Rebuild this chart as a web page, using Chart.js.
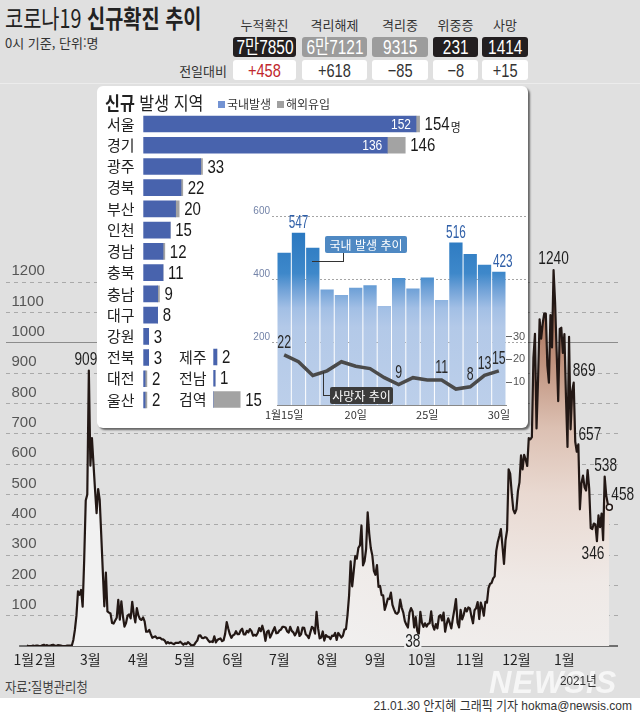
<!DOCTYPE html>
<html lang="ko">
<head>
<meta charset="utf-8">
<title>코로나19 신규확진 추이</title>
<script src="https://cdn.jsdelivr.net/npm/chart.js"></script>
<style>
  html, body { margin: 0; padding: 0; }
  body { position: relative; width: 640px; height: 713px; overflow: hidden; background: #e0e0e0; color: #222;
         font-family: 'Noto Sans CJK KR', sans-serif; }
  canvas { position: absolute; }
  .t { position: absolute; white-space: nowrap; }
  .num { font-family: 'Liberation Sans', 'Noto Sans CJK KR', sans-serif; }
  .sq { transform-origin: 0 0; }
  #panel { position: absolute; left: 97px; top: 86px; width: 431px; height: 342px; background: #fff;
           border-radius: 6px; box-shadow: 2px 2px 2px rgba(0,0,0,.55); }
  .box, .chg { position: absolute; height: 20px; line-height: 21px; border-radius: 3px; white-space: nowrap;
               display: flex; justify-content: center; }
  .box { font-size: 20px; color: #fff; }
  .chg { font-size: 19px; background: #fff; color: #333; }
  .box span, .chg span { display: inline-block; transform: scaleX(.77); }
  .callout { position: absolute; color: #fff; font-size: 12px; line-height: 17px; text-align: center; border-radius: 2px; }
  .lead { position: absolute; border: 0 solid #333; }
</style>
</head>
<body>
<div class="t sq" style="left:5px;top:5px;font-size:25px;line-height:25px;transform:scaleX(.79)">코로나19 <b>신규확진 추이</b></div>
<div class="t" style="left:5px;top:35px;font-size:13px;line-height:15px;color:#333">0시 기준, 단위:명</div>
<div id="stats"></div>
<div class="t" style="left:0;top:83px;width:640px;height:1px;background:#ececec"></div>

<canvas id="main" width="640" height="435" style="left:0;top:240px"></canvas>

<div id="panel"></div>
<div class="t sq" style="left:105px;top:93px;font-size:18px;line-height:18px;transform:scaleX(.9)"><b>신규</b> 발생 지역</div>
<div class="t" style="left:218px;top:101px;width:7px;height:7px;background:#7393d3"></div>
<div class="t" style="left:227px;top:96px;font-size:12px;line-height:16px;color:#333">국내발생</div>
<div class="t" style="left:277px;top:101px;width:7px;height:7px;background:#a0a0a0"></div>
<div class="t" style="left:286px;top:96px;font-size:12px;line-height:16px;color:#333">해외유입</div>

<canvas id="regionsA" width="380" height="318" style="left:97px;top:103px"></canvas>
<canvas id="regionsB" width="110" height="85" style="left:175px;top:336px"></canvas>
<canvas id="recent" width="280" height="230" style="left:250px;top:196px"></canvas>

<div class="lead" style="left:343px;top:252px;height:10px;border-left-width:1px"></div>
<div class="lead" style="left:312px;top:261px;width:32px;border-top-width:1px"></div>
<div class="callout" style="left:325px;top:236px;width:82px;height:17px;background:#4f89c3">국내 발생 추이</div>
<div class="lead" style="left:323px;top:372px;height:23px;border-left-width:1px"></div>
<div class="lead" style="left:323px;top:395px;width:7px;border-top-width:1px"></div>
<div class="callout" style="left:330px;top:387px;width:63px;height:17px;background:#3b3b3b">사망자 추이</div>

<div class="t sq" style="left:5px;top:677px;font-size:14px;line-height:18px;color:#444;transform:scaleX(.88)">자료:질병관리청</div>
<div class="t" style="left:489px;top:665px;font:italic bold 31px 'Liberation Sans', sans-serif;color:rgba(255,255,255,.7);letter-spacing:1px">NEWSIS</div>
<div class="t num sq" style="left:560px;top:673px;font-size:13px;line-height:16px;color:#333;transform:scaleX(.9)">2021년</div>
<div class="t" style="left:0;top:698px;width:640px;height:15px;background:#fff"></div>
<div class="t num" style="right:8px;top:698px;font-size:13px;line-height:15px;color:#333;transform:scaleX(.92);transform-origin:100% 0">21.01.30 안지혜 그래픽 기자 hokma@newsis.com</div>

<script>
const KR = "'Noto Sans CJK KR', sans-serif";
const NUM = "'Liberation Sans', 'Noto Sans CJK KR', sans-serif";

// header figures
const statNames = ['누적확진', '격리해제', '격리중', '위중증', '사망'];
const statTotals = ['7만7850', '6만7121', '9315', '231', '1414'];
const statChanges = ['+458', '+618', '−85', '−8', '+15'];

// daily new cases, 2020-01-20 .. 2021-01-30
const jan2020 = [1, 0, 0, 0, 1, 0, 1, 1, 0, 0, 2, 4];
const feb2020 = [1, 3, 0, 1, 3, 4, 1, 0, 3, 2, 1, 0, 0, 0, 1, 1, 1, 1, 20, 53, 100, 180, 169, 185, 130, 284, 480, 500, 909];
const mar2020 = [595, 686, 600, 516, 438, 518, 483, 367, 248, 131, 242, 114, 110, 107, 76, 74, 84, 93, 152, 87, 147, 98, 64, 76, 100, 104, 91, 146, 105, 78, 125];
const apr2020 = [101, 89, 86, 94, 81, 47, 47, 53, 39, 27, 30, 32, 25, 27, 27, 22, 22, 18, 8, 13, 9, 11, 8, 6, 10, 10, 10, 14, 9, 4];
const may2020 = [9, 6, 13, 8, 3, 2, 4, 12, 18, 34, 35, 27, 26, 29, 27, 19, 13, 15, 13, 32, 12, 20, 23, 25, 16, 19, 40, 79, 58, 39, 27];
const jun2020 = [35, 38, 49, 39, 39, 51, 57, 38, 38, 50, 45, 56, 49, 34, 37, 34, 43, 59, 49, 67, 48, 17, 46, 51, 28, 39, 51, 62, 42, 43];
const jul2020 = [51, 54, 63, 63, 61, 48, 44, 63, 50, 45, 35, 44, 62, 33, 39, 61, 60, 39, 34, 26, 45, 63, 59, 41, 113, 58, 25, 28, 48, 18, 36];
const aug2020 = [31, 30, 23, 34, 33, 43, 20, 43, 36, 28, 34, 54, 56, 103, 166, 279, 197, 246, 297, 288, 324, 332, 397, 266, 280, 320, 441, 371, 323, 299, 248];
const sep2020 = [235, 267, 195, 198, 168, 167, 119, 136, 156, 155, 176, 136, 121, 109, 106, 113, 153, 126, 110, 82, 70, 61, 110, 125, 114, 61, 95, 50, 38, 113];
const oct2020 = [77, 63, 75, 64, 73, 75, 114, 69, 54, 72, 58, 97, 102, 84, 110, 47, 73, 91, 76, 58, 91, 121, 155, 77, 61, 119, 88, 103, 125, 114, 127];
const nov2020 = [124, 97, 75, 118, 125, 145, 89, 143, 126, 100, 146, 143, 191, 205, 208, 223, 230, 313, 343, 363, 386, 330, 271, 349, 382, 583, 569, 504, 450, 438];
const dec2020 = [451, 511, 540, 629, 583, 631, 615, 594, 686, 682, 689, 950, 1030, 718, 880, 1078, 1014, 1064, 1097, 1097, 926, 869, 1092, 985, 1240, 1132, 970, 808, 1046, 1050, 967];
const jan2021 = [1029, 824, 657, 1020, 715, 840, 869, 674, 641, 665, 451, 537, 562, 524, 513, 580, 520, 389, 386, 404, 401, 346, 431, 392, 437, 349, 559, 497, 469, 458];

// month ticks (day index from 1/20) and axis labels
const monthTicks = [-2, 12, 41, 72, 102, 133, 163, 194, 225, 255, 286, 316, 347];
const monthLabels = ['1월', '2월', '3월', '4월', '5월', '6월', '7월', '8월', '9월', '10월', '11월', '12월', '1월'];
const yTicks = [100, 200, 300, 400, 500, 600, 700, 800, 900, 1000, 1100, 1200];

// new cases by region on 1/30
const regionsLeft = ['서울', '경기', '광주', '경북', '부산', '인천', '경남', '충북', '충남', '대구', '강원', '전북', '대전', '울산'];
const domesticLeft = [152, 136, 32, 21, 18, 15, 11, 11, 8, 8, 3, 3, 1, 1];
const importedLeft = [2, 10, 1, 1, 2, 0, 1, 0, 1, 0, 0, 0, 1, 1];
const regionsRight = ['제주', '전남', '검역'];
const domesticRight = [2, 1, 0];
const importedRight = [0, 0, 15];

// last 16 days
const recentDays = [15, 16, 17, 18, 19, 20, 21, 22, 23, 24, 25, 26, 27, 28, 29, 30];
const recentDomestic = [483, 547, 499, 367, 349, 372, 380, 314, 403, 370, 405, 333, 516, 479, 445, 423];
const recentDeaths = [22, 19, 13, 15, 19, 17, 16, 12, 9, 12, 11, 11, 7, 8, 13, 15];

// ---------------- header
const statLayout = [[233, 63, '#231f20'], [302, 65, '#9c9c9c'], [372, 56, '#9c9c9c'], [433, 45, '#231f20'], [482, 46, '#231f20']];
let html = '';
statNames.forEach(function(name, i) {
  const left = statLayout[i][0], w = statLayout[i][1], bg = statLayout[i][2];
  html += '<div class="t" style="left:' + left + 'px;width:' + w + 'px;top:17px;text-align:center;font-size:13px;line-height:15px;color:#333">' + name + '</div>';
  html += '<div class="box num" style="left:' + left + 'px;width:' + w + 'px;top:37px;background:' + bg + '"><span>' + statTotals[i] + '</span></div>';
  html += '<div class="chg num" style="left:' + left + 'px;width:' + w + 'px;top:60px;' + (i == 0 ? 'color:#c1272d' : '') + '"><span>' + statChanges[i] + '</span></div>';
});
html += '<div class="t" style="left:150px;width:77px;top:63px;text-align:right;font-size:13px;line-height:15px;color:#333">전일대비</div>';
document.getElementById('stats').innerHTML = html;

function squeeze(c, text, x, y, align, sx) {
  c.save();
  c.translate(x, y);
  c.scale(sx, 1);
  c.textAlign = align;
  c.textBaseline = 'middle';
  c.fillText(text, 0, 0);
  c.restore();
}

// ---------------- main daily chart
const mainSeries = [].concat(jan2020, feb2020, mar2020, apr2020, may2020, jun2020, jul2020, aug2020, sep2020, oct2020, nov2020, dec2020, jan2021);

const mainNotes = [
  { i: 40, text: '909', dx: -3, dy: -11, align: 'center' },
  { i: 340, text: '1240', dx: 0, dy: -11, align: 'center' },
  { i: 353, text: '869', dx: -1, dy: -12, align: 'left' },
  { i: 349, text: '657', dx: 11, dy: -12, align: 'left' },
  { i: 373, text: '538', dx: 1, dy: -11, align: 'center' },
  { i: 368, text: '346', dx: -4, dy: 13, align: 'center' },
  { i: 376, text: '458', dx: 2, dy: -12, align: 'left' },
  { i: 253, text: '38', dx: -6, dy: 7, align: 'center', bg: true }
];

function areaFill(ctx) {
  const chart = ctx.chart;
  if (!chart.chartArea) return '#f0f0f0';
  const cx = chart.scales.x.getPixelForValue(340), cy = chart.scales.y.getPixelForValue(1240);
  const g = chart.ctx.createRadialGradient(cx, cy, 0, cx, cy, 450);
  g.addColorStop(0, '#9e654d');
  g.addColorStop(0.1, '#a9745d');
  g.addColorStop(0.2, '#bf917c');
  g.addColorStop(0.35, '#dcc0b2');
  g.addColorStop(0.5, '#e9d9d1');
  g.addColorStop(0.7, '#efe9e6');
  g.addColorStop(1, '#f1f1f1');
  return g;
}

const mainLabels = {
  id: 'mainLabels',
  beforeDatasetsDraw(chart) {
    // baseline starts a little right of the left edge, as in the print version
    const c = chart.ctx, a = chart.chartArea;
    c.save();
    c.strokeStyle = '#4a4a4a';
    c.lineWidth = 1.5;
    c.beginPath();
    c.moveTo(chart.scales.x.getPixelForValue(-5), a.bottom);
    c.lineTo(a.right, a.bottom);
    c.stroke();
    c.restore();
  },
  afterDatasetsDraw(chart) {
    const c = chart.ctx, pts = chart.getDatasetMeta(0).data;
    c.font = '19px ' + NUM;
    mainNotes.forEach(function(n) {
      const p = pts[n.i];
      const x = p.x + n.dx, y = p.y + n.dy;
      if (n.bg) {
        const w = c.measureText(n.text).width * 0.72;
        c.fillStyle = '#f0f0f0';
        c.fillRect(x - w / 2 - 1, y - 7, w + 2, 14);
      }
      c.fillStyle = '#1e1e1e';
      squeeze(c, n.text, x, y, n.align, 0.72);
    });
  }
};

new Chart(document.getElementById('main'), {
  type: 'line',
  data: {
    datasets: [{
      data: mainSeries.map(function(v, i) { return { x: i, y: v }; }),
      borderColor: '#231815',
      borderWidth: 2.2,
      borderJoinStyle: 'round',
      fill: 'origin',
      backgroundColor: areaFill,
      tension: 0,
      pointRadius: function(ctx) { return ctx.dataIndex === mainSeries.length - 1 ? 3 : 0; },
      pointBackgroundColor: '#f0f0f0',
      pointBorderColor: '#231815',
      pointBorderWidth: 1.5
    }]
  },
  options: {
    animation: false,
    responsive: false,
    layout: { padding: { top: 10, right: 22, left: 0, bottom: 0 } },
    plugins: { legend: { display: false }, tooltip: { enabled: false } },
    scales: {
      x: {
        type: 'linear', min: -13.8, max: 381.6,
        afterBuildTicks: function(s) { s.ticks = monthTicks.map(function(v) { return { value: v }; }); },
        afterFit: function(s) { s.height = 29; },
        ticks: {
          autoSkip: false, maxRotation: 0, padding: 5, color: '#222',
          font: { family: KR, size: 14 },
          callback: function(v) { return monthLabels[monthTicks.indexOf(v)]; }
        },
        grid: { display: false, drawTicks: false },
        border: { display: false }
      },
      y: {
        min: 0, max: 1290,
        afterBuildTicks: function(s) { s.ticks = yTicks.map(function(v) { return { value: v }; }); },
        afterFit: function(s) { s.width = 0; },
        ticks: {
          mirror: true, padding: 6, labelOffset: -11, color: '#555',
          font: { family: "'Liberation Sans', sans-serif", size: 15 },
          callback: function(v) { return String(v); }
        },
        grid: {
          drawTicks: false, lineWidth: 1,
          color: function(c) { return c.tick && c.tick.value === 1000 ? '#8c8c8c' : '#a9a9a9'; }
        },
        border: { display: false, dash: function(c) { return c.tick && c.tick.value === 1000 ? [] : [4, 4]; } }
      }
    }
  },
  plugins: [mainLabels]
});

// ---------------- regions
const regionLabels = {
  id: 'regionLabels',
  afterDatasetsDraw(chart) {
    const c = chart.ctx, xs = chart.scales.x, ys = chart.scales.y;
    const dom = chart.data.datasets[0].data, imp = chart.data.datasets[1].data;
    dom.forEach(function(d, i) {
      const total = d + imp[i];
      const y = ys.getPixelForValue(i) + 1;
      const xEnd = xs.getPixelForValue(total) + 5;
      c.fillStyle = '#1a1a1a';
      c.font = '19px ' + NUM;
      squeeze(c, String(total), xEnd, y, 'left', 0.79);
      if (chart.canvas.id === 'regionsA' && i === 0) {
        const w = c.measureText(String(total)).width * 0.79;
        c.font = '12px ' + KR;
        squeeze(c, '명', xEnd + w + 1, y + 2, 'left', 0.9);
      }
      if (d > 100) {
        c.fillStyle = '#fff';
        c.font = '15px ' + NUM;
        squeeze(c, String(d), xs.getPixelForValue(d) - 5, y, 'right', 0.8);
      }
    });
  }
};

function regionChart(id, names, dom, imp, maxValue, axisWidth, pad) {
  return new Chart(document.getElementById(id), {
    type: 'bar',
    data: {
      labels: names,
      datasets: [
        { data: dom, backgroundColor: '#4863ad', barThickness: 16 },
        { data: imp, backgroundColor: '#a3a3a3', barThickness: 16 }
      ]
    },
    options: {
      indexAxis: 'y',
      animation: false,
      responsive: false,
      layout: { padding: pad },
      plugins: { legend: { display: false }, tooltip: { enabled: false } },
      scales: {
        x: { display: false, stacked: true, min: 0, max: maxValue },
        y: {
          stacked: true,
          afterFit: function(s) { s.width = axisWidth; },
          grid: { display: false, drawTicks: false },
          border: { display: false },
          ticks: { crossAlign: 'far', padding: 0, color: '#222', font: { family: KR, size: 15 } }
        }
      }
    },
    plugins: [regionLabels]
  });
}

regionChart('regionsA', regionsLeft, domesticLeft, importedLeft, 186, 36.3, { left: 10, top: 10.4, bottom: 10.4, right: 0 });
regionChart('regionsB', regionsRight, domesticRight, importedRight, 40, 34.3, { left: 4, top: 10.4, bottom: 10.9, right: 0 });

// ---------------- last 16 days
function barFill(ctx) {
  const chart = ctx.chart;
  if (!chart.chartArea) return '#6fa1d7';
  const ys = chart.scales.y;
  const g = chart.ctx.createLinearGradient(0, ys.getPixelForValue(0), 0, ys.getPixelForValue(550));
  g.addColorStop(0, '#bccfea');
  g.addColorStop(0.45, '#b3c9e8');
  g.addColorStop(0.56, '#a2bfe5');
  g.addColorStop(0.67, '#6fa1d7');
  g.addColorStop(0.76, '#3e88ca');
  g.addColorStop(1, '#2a78c0');
  return g;
}

const recentBarNotes = [1, 12, 15];
const recentDeathNotes = [0, 8, 11, 13, 14, 15];

const recentDecor = {
  id: 'recentDecor',
  beforeDatasetsDraw(chart) {
    const c = chart.ctx, a = chart.chartArea, ys = chart.scales.y;
    c.save();
    c.strokeStyle = '#a5a5a5';
    c.lineWidth = 1;
    c.setLineDash([2, 2]);
    [200, 400, 600].forEach(function(v) {
      const y = Math.round(ys.getPixelForValue(v)) + 0.5;
      c.beginPath();
      c.moveTo(a.left - 5, y);
      c.lineTo(a.right + 21, y);
      c.stroke();
    });
    c.restore();
  },
  afterDatasetsDraw(chart) {
    const c = chart.ctx;
    const bars = chart.getDatasetMeta(1).data, pts = chart.getDatasetMeta(0).data;
    c.font = '19px ' + NUM;
    c.fillStyle = '#2f5fa8';
    recentBarNotes.forEach(function(i) {
      squeeze(c, String(recentDomestic[i]), bars[i].x + (i === 15 ? 4 : 0), bars[i].y - 10, 'center', 0.62);
    });
    c.fillStyle = '#2a2a2a';
    recentDeathNotes.forEach(function(i) {
      squeeze(c, String(recentDeaths[i]), pts[i].x, pts[i].y - 12, 'center', 0.65);
    });
  }
};

new Chart(document.getElementById('recent'), {
  type: 'bar',
  data: {
    labels: recentDays.map(function(d) { return d === 15 ? '1월15일' : (d % 5 === 0 ? d + '일' : ''); }),
    datasets: [
      { type: 'line', data: recentDeaths, yAxisID: 'y1', borderColor: '#4a4a4a', borderWidth: 3.5, pointRadius: 0, tension: 0, order: 0 },
      { type: 'bar', data: recentDomestic, yAxisID: 'y', backgroundColor: barFill, barPercentage: 0.93, categoryPercentage: 1, order: 1 }
    ]
  },
  options: {
    animation: false,
    responsive: false,
    layout: { padding: { top: 20, left: 0, right: 0, bottom: 0 } },
    plugins: { legend: { display: false }, tooltip: { enabled: false } },
    scales: {
      x: {
        afterFit: function(s) { s.height = 21; },
        grid: { display: false, drawTicks: false },
        border: { display: true, color: '#888' },
        ticks: { autoSkip: false, maxRotation: 0, padding: 3, color: '#333', font: { family: KR, size: 11 } }
      },
      y: {
        min: 0, max: 600,
        afterBuildTicks: function(s) { s.ticks = [200, 400, 600].map(function(v) { return { value: v }; }); },
        afterFit: function(s) { s.width = 27; },
        grid: { display: false, drawTicks: false },
        border: { display: false },
        ticks: { padding: 7, labelOffset: -5, color: '#7383a8', font: { family: NUM, size: 10 } }
      },
      y1: {
        position: 'right', min: 0, max: 83,
        afterBuildTicks: function(s) { s.ticks = [10, 20, 30].map(function(v) { return { value: v }; }); },
        afterFit: function(s) { s.width = 24; },
        grid: { drawOnChartArea: false, drawTicks: true, tickLength: 6, tickColor: '#666' },
        border: { display: false },
        ticks: { padding: 1, color: '#555', font: { family: NUM, size: 11 } }
      }
    }
  },
  plugins: [recentDecor]
});
</script>
</body>
</html>
